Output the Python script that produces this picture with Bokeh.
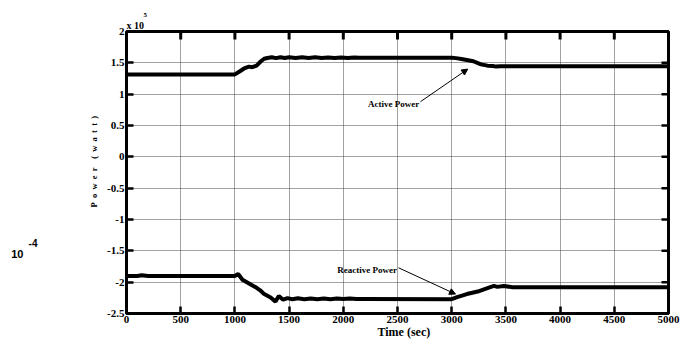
from bokeh.plotting import figure
from bokeh.models import (Label, Arrow, NormalHead, FixedTicker, LinearAxis, Title,
                          CustomJSTickFormatter, Range1d)
from bokeh.embed import file_html
from bokeh.resources import INLINE

# ---- data (power in units of 10^5 W) ----
active_t = [0, 1000, 1050, 1085, 1130, 1160, 1200, 1240, 1270, 1300, 1340, 1380, 1420,
            1460, 1500, 1560, 1620, 1680, 1740, 1800, 1860, 1920, 1980, 2040, 2100,
            2150, 3000, 3040, 3090, 3140, 3200, 3270, 3330, 3380, 3410, 3450, 5000]
active_p = [1.315, 1.315, 1.37, 1.41, 1.44, 1.43, 1.455, 1.525, 1.565, 1.578, 1.59, 1.575,
            1.59, 1.578, 1.588, 1.578, 1.588, 1.578, 1.588, 1.578, 1.586, 1.578, 1.586,
            1.578, 1.585, 1.582, 1.582, 1.575, 1.56, 1.545, 1.525, 1.475, 1.455, 1.45,
            1.44, 1.447, 1.447]

reactive_t = [0, 100, 140, 200, 240, 1000, 1030, 1070, 1110, 1150, 1200, 1240, 1270,
              1330, 1375, 1405, 1445, 1485, 1530, 1580, 1640, 1700, 1760, 1820, 1880,
              1940, 2000, 2060, 2120, 2200, 3000, 3050, 3140, 3240, 3330, 3390, 3420,
              3480, 3560, 5000]
reactive_q = [-1.9, -1.9, -1.89, -1.9, -1.9, -1.9, -1.87, -1.96, -2.0, -2.04, -2.09,
              -2.14, -2.19, -2.245, -2.31, -2.22, -2.28, -2.255, -2.272, -2.258, -2.272,
              -2.26, -2.272, -2.26, -2.272, -2.26, -2.27, -2.26, -2.27, -2.268, -2.272,
              -2.24, -2.19, -2.15, -2.095, -2.06, -2.075, -2.062, -2.08, -2.08]

x_ticks = [0, 500, 1000, 1500, 2000, 2500, 3000, 3500, 4000, 4500, 5000]
y_ticks = [-2.5, -2, -1.5, -1, -0.5, 0, 0.5, 1, 1.5, 2]
x_min, x_max = 0, 5000
y_min, y_max = -2.5, 2

# annotation anchors (data units)
active_note = {"text": "Active Power", "x": 2700, "y": 0.85, "hx": 3148, "hy": 1.40, "tx": 2712, "ty": 0.88}
reactive_note = {"text": "Reactive Power", "x": 2495, "y": -1.80, "hx": 3035, "hy": -2.19, "tx": 2509, "ty": -1.77}
# stray "10^-4" text left of the axes (vertical anchor in data units)
stray_base = {"text": "10", "y": -1.55}
stray_exp = {"text": "-4", "y": -1.37}

NARROW = "Liberation Sans Narrow"
SERIF = "Liberation Serif"
SANS = "Liberation Sans"
ES = "\u2002"

W, H = 687, 348
B_LEFT, B_RIGHT, B_TOP, B_BOTTOM = 126, 19, 31, 35
TICK_PX = 7

p = figure(width=W, height=H, output_backend="svg", toolbar_location=None,
           x_range=Range1d(x_min, x_max), y_range=Range1d(y_min, y_max),
           min_border_left=B_LEFT, min_border_right=B_RIGHT, min_border_top=B_TOP,
           min_border_bottom=B_BOTTOM, background_fill_color="white",
           border_fill_color="white")

p.outline_line_color = "black"
p.outline_line_width = 3

fmt = CustomJSTickFormatter(code="return tick.toString()")
for ax in (p.xaxis[0], p.yaxis[0]):
    ax.axis_line_width = 3
    ax.major_tick_in = TICK_PX
    ax.major_tick_out = 0
    ax.major_tick_line_width = 2.5
    ax.minor_tick_line_color = None
    ax.major_label_text_font = NARROW
    ax.major_label_text_font_style = "bold"
    ax.major_label_text_font_size = "11px"
    ax.major_label_text_color = "black"
    ax.formatter = fmt
    ax.major_label_standoff = 2

p.xaxis[0].ticker = FixedTicker(ticks=x_ticks)
p.yaxis[0].ticker = FixedTicker(ticks=y_ticks)

# axis titles
p.add_layout(Title(text="Time (sec)", align="left", offset=251, standoff=-5,
                   text_font=SERIF, text_font_style="bold", text_font_size="12px",
                   text_color="black"), "below")
p.add_layout(Title(text=ES.join("Power") + ES * 2 + ES.join("(watt)"), align="left",
                   offset=106, standoff=11, text_font=SERIF, text_font_style="bold",
                   text_font_size="8.5px", text_color="black"), "left")

# "x 10^5" multiplier above the y axis
p.add_layout(Title(text="x 10", align="left", offset=0, standoff=2, text_font=NARROW,
                   text_font_style="bold", text_font_size="10px",
                   text_color="black"), "above")
p.add_layout(Title(text="5", align="left", offset=17, standoff=0, text_font=NARROW,
                   text_font_style="bold", text_font_size="7px",
                   text_color="black"), "above")

# stray "10^-4" to the far left, as two label-only axes
for note, size, standoff in ((stray_exp, "10px", 44), (stray_base, "11px", 2)):
    ax = LinearAxis(ticker=FixedTicker(ticks=[note["y"]]),
                    major_label_overrides={note["y"]: note["text"]},
                    axis_line_color=None, major_tick_line_color=None,
                    minor_tick_line_color=None, major_tick_out=0, major_tick_in=0,
                    major_label_standoff=standoff, major_label_text_font=SANS,
                    major_label_text_font_style="bold",
                    major_label_text_font_size=size, major_label_text_color="black")
    p.add_layout(ax, "left")

p.xgrid.ticker = FixedTicker(ticks=x_ticks)
p.ygrid.ticker = FixedTicker(ticks=y_ticks)
p.grid.grid_line_color = "#444444"
p.grid.grid_line_dash = "1 1"
p.grid.grid_line_width = 1

# mirrored inward ticks on the top and right edges (tick length converted from px)
dy_tick = (TICK_PX + 1) * (y_max - y_min) / (H - B_TOP - B_BOTTOM)
dx_tick = TICK_PX * (x_max - x_min) / (W - B_LEFT - B_RIGHT)
p.segment(x0=x_ticks, y0=[y_max] * len(x_ticks), x1=x_ticks,
          y1=[y_max - dy_tick] * len(x_ticks), line_color="black", line_width=3)
p.segment(x0=[x_max] * len(y_ticks), y0=y_ticks, x1=[x_max - dx_tick] * len(y_ticks),
          y1=y_ticks, line_color="black", line_width=2.5)

p.line(active_t, active_p, line_color="black", line_width=4)
p.line(reactive_t, reactive_q, line_color="black", line_width=4)

for note in (active_note, reactive_note):
    p.add_layout(Label(x=note["x"], y=note["y"], text=note["text"], text_font=SERIF,
                       text_font_style="bold", text_font_size="9px",
                       text_align="right", text_baseline="middle", text_color="black"))
    p.add_layout(Arrow(end=NormalHead(size=6, fill_color="black", line_color="black"),
                       x_start=note["tx"], y_start=note["ty"],
                       x_end=note["hx"], y_end=note["hy"],
                       line_color="black", line_width=1))

open("out.html", "w").write(file_html(p, INLINE))
